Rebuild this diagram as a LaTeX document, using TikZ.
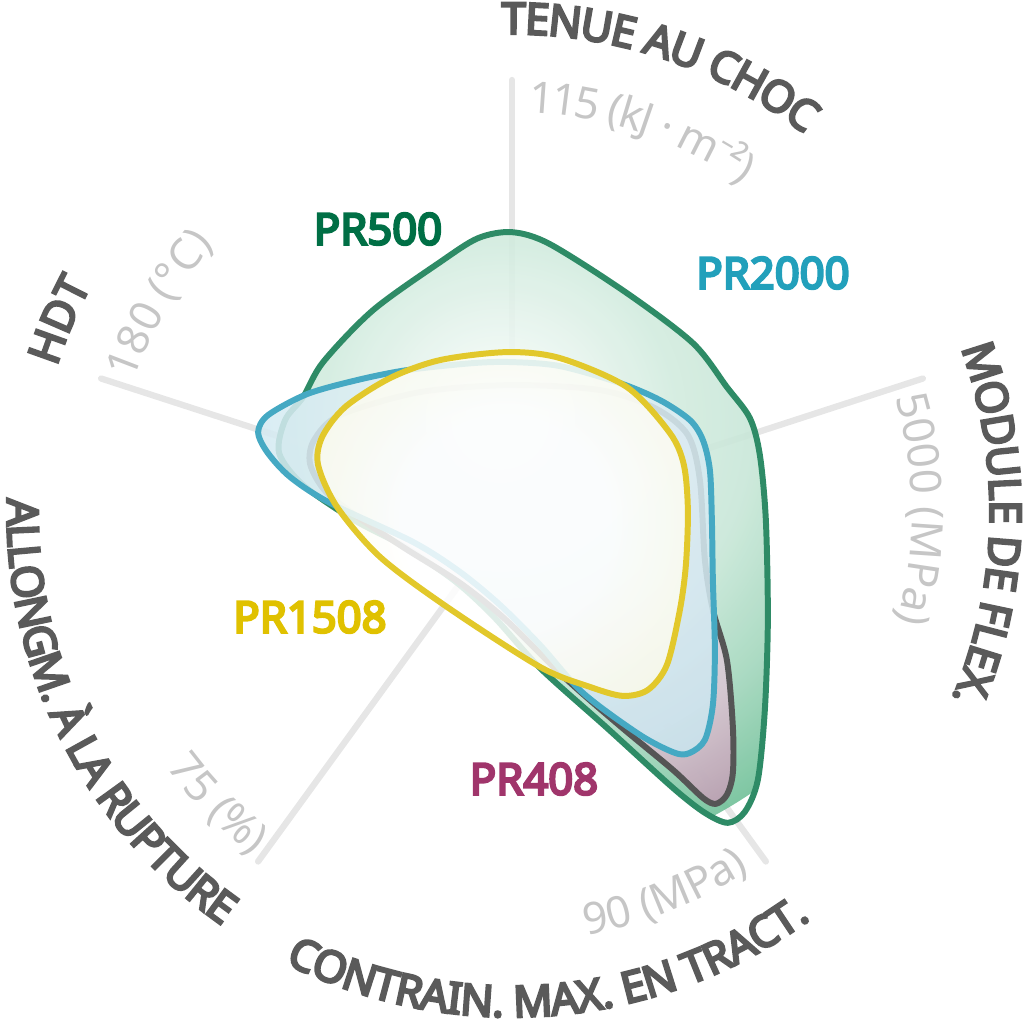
\documentclass[tikz,border=0pt]{standalone}
\usepackage{fontspec}
\setmainfont{Noto Sans}
\newfontfamily\heavysans{Noto Sans}[FakeBold=5.5]

\definecolor{headgray}{HTML}{5A5A5A}
\definecolor{unitgray}{HTML}{C6C6C6}
\definecolor{spokegray}{HTML}{E6E6E6}
\definecolor{greenline}{HTML}{2E8B66}
\definecolor{greentext}{HTML}{006F45}
\definecolor{greenfill}{RGB}{112,192,152}
\definecolor{blueline}{HTML}{45A9C3}
\definecolor{bluetext}{HTML}{22A0BB}
\definecolor{bluefill}{RGB}{196,226,236}
\definecolor{yellowline}{HTML}{E2C82B}
\definecolor{yellowtext}{HTML}{E0C100}
\definecolor{yellowfill}{RGB}{250,249,226}
\definecolor{grayline}{HTML}{555555}
\definecolor{mauvetext}{HTML}{A0356B}
\definecolor{mauvefill}{RGB}{190,148,174}

\newcommand{\headfont}{\heavysans\fontsize{12.4}{15}\selectfont}
\newcommand{\unitfont}{\fontsize{12.4}{15}\selectfont}

\pgfdeclareradialshading{glowgreen}{\pgfpoint{0bp}{0bp}}{color(0bp)=(greenfill!6!white); color(3.75bp)=(greenfill!12!white); color(10bp)=(greenfill!32!white); color(14bp)=(greenfill!38!white); color(19.5bp)=(greenfill!65!white); color(25bp)=(greenfill); color(50bp)=(greenfill)}
\pgfdeclareradialshading{glowmauve}{\pgfpoint{0bp}{0bp}}{color(0bp)=(mauvefill!4!white); color(3.75bp)=(mauvefill!8!white); color(10bp)=(mauvefill!25!white); color(14bp)=(mauvefill!30!white); color(19.5bp)=(mauvefill!55!white); color(25bp)=(mauvefill!95!white); color(50bp)=(mauvefill)}
\pgfdeclareradialshading{glowblue}{\pgfpoint{0bp}{0bp}}{color(0bp)=(bluefill!40!white); color(25bp)=(bluefill); color(50bp)=(bluefill)}
\pgfdeclareradialshading{glowyellow}{\pgfpoint{0bp}{0bp}}{color(0bp)=(white); color(10bp)=(white); color(25bp)=(yellowfill); color(50bp)=(yellowfill)}

\newcommand{\blobfivehundred}{plot[smooth cycle, tension=0.5] coordinates {(512,232) (550,244) (627,293) (693,343) (727,387) (750,418) (760,455) (766,520) (768,620) (765,710) (758,780) (745,812) (728,823) (705,813) (673,788) (607,728) (540,668) (494,617) (456,582) (405,547) (354,520) (303,485) (279,453) (285,420) (303,397) (323,362) (373,310) (440,262) (478,238)}}
\newcommand{\blobfouroeight}{plot[smooth cycle, tension=0.5] coordinates {(512,385) (600,390) (655,408) (688,435) (700,480) (705,560) (713,610) (727,660) (733,727) (733,773) (727,795) (716,804) (703,798) (673,770) (620,726) (565,678) (506,620) (460,583) (406,549) (362,520) (326,492) (310,464) (314,440) (340,415) (420,392)}}
\newcommand{\blobtwothousand}{plot[smooth cycle, tension=0.5] coordinates {(512,362) (560,366) (620,383) (660,400) (690,420) (703,440) (710,470) (712,520) (713,580) (715,650) (713,705) (705,740) (690,753) (675,753) (640,735) (583,693) (540,645) (500,605) (460,572) (413,542) (330,503) (290,477) (267,452) (258,432) (268,415) (307,394) (357,380) (407,370) (473,363)}}
\newcommand{\blobfifteen}{plot[smooth cycle, tension=0.5] coordinates {(507,352) (560,358) (627,387) (670,433) (684,465) (688,510) (686,565) (680,610) (667,665) (648,690) (623,696) (590,687) (540,667) (447,607) (380,557) (337,507) (318,465) (322,437) (345,407) (390,378) (440,360)}}

% text round the chart: #1 font, #2 radius, #3 middle angle, #4 1 = clockwise / -1 = counterclockwise, #5 letters, #6 tracking
\makeatletter
\newdimen\arcw
\newsavebox{\arcbox}
\newcommand{\arclabel}[6]{%
  \global\arcw=0pt
  \@tfor\arcchar:=#5\do{%
    \pgfinterruptpicture\global\setbox\arcbox=\hbox{#1\arcchar}\global\advance\arcw by \wd\arcbox\endpgfinterruptpicture}%
  \pgfmathsetmacro{\arcang}{#3 + #4*0.5*#6*\the\arcw/(#2*28.45274)*57.29578}%
  \@tfor\arcchar:=#5\do{%
    \pgfinterruptpicture\global\setbox\arcbox=\hbox{#1\arcchar}\endpgfinterruptpicture
    \pgfmathsetmacro{\arcstep}{#6*\the\wd\arcbox/(#2*28.45274)*57.29578}%
    \pgfmathsetmacro{\arcmid}{\arcang - #4*0.5*\arcstep}%
    \pgfmathsetmacro{\arcrot}{\arcmid - #4*90}%
    \node[inner sep=0pt, anchor=base, rotate=\arcrot] at (\arcmid:#2) {#1\arcchar};%
    \pgfmathsetmacro{\arcang}{\arcang - #4*\arcstep}%
  }%
}
\makeatother

\begin{document}
\begin{tikzpicture}[
  spoke/.style = {spokegray, line width=1.8pt, line cap=round},
  outline/.style = {line width=1.7pt, line join=round},
  prtag/.style = {font=\headfont}
]

\useasboundingbox (-5.12,-5.12) rectangle (5.12,5.12);

\coordinate (hub) at (0,0);
\foreach \ang in {90,18,-54,-126,162}
  \draw[spoke] (hub) -- (\ang:4.32);

\begin{scope}[x=0.01cm, y=-0.01cm, shift={(-512,-512)}]
\begin{scope}
\clip \blobfivehundred;
\shade[shading=glowgreen, fill opacity=0.9] (500,420) circle (450);
\end{scope}
\draw[outline, greenline] \blobfivehundred;

\begin{scope}
\clip \blobfouroeight;
\shade[shading=glowmauve, fill opacity=0.85] (500,420) circle (450);
\end{scope}
\draw[outline, grayline] \blobfouroeight;

\begin{scope}
\clip \blobtwothousand;
\shade[shading=glowblue, fill opacity=0.87] (500,420) circle (450);
\end{scope}
\draw[outline, blueline] \blobtwothousand;

\begin{scope}
\clip \blobfifteen;
\shade[shading=glowyellow, fill opacity=0.85] (505,520) circle (260);
\end{scope}
\draw[outline, yellowline] \blobfifteen;
\end{scope}

\node[prtag, greentext] (pr500) at (-1.34,2.83) {PR500};
\node[prtag, bluetext] (pr2000) at (2.61,2.39) {PR2000};
\node[prtag, yellowtext] (pr1508) at (-2.02,-1.05) {PR1508};
\node[prtag, mauvetext] (pr408) at (0.22,-2.67) {PR408};

\arclabel{\color{headgray}\headfont}{4.78}{71.75}{1}{TENUE{ }AU{ }CHOC}{0.95}
\arclabel{\color{unitgray}\unitfont}{4.00}{71.25}{1}{115{ }(kJ{ }·{ }m⁻²)}{0.9}

\arclabel{\color{headgray}\headfont}{4.78}{-1.5}{1}{MODULE{ }DE{ }FLEX.}{0.97}
\arclabel{\color{unitgray}\unitfont}{4.00}{0.4}{1}{5000{ }(MPa)}{1}

\arclabel{\color{unitgray}\unitfont}{4.30}{-68.25}{-1}{90{ }(MPa)}{1}
\arclabel{\color{headgray}\headfont}{5.05}{-85.2}{-1}{CONTRAIN.{ }MAX.{ }EN{ }TRACT.}{0.97}

\arclabel{\color{unitgray}\unitfont}{4.30}{224.75}{-1}{75{ }(\%)}{1}
\arclabel{\color{headgray}\headfont}{5.05}{206.75}{-1}{ALLONGM.{ }À{ }LA{ }RUPTURE}{0.94}

\arclabel{\color{headgray}\headfont}{4.78}{157}{1}{HDT}{1}
\arclabel{\color{unitgray}\unitfont}{4.00}{149.5}{1}{180{ }(°C)}{1}

\end{tikzpicture}
\end{document}
